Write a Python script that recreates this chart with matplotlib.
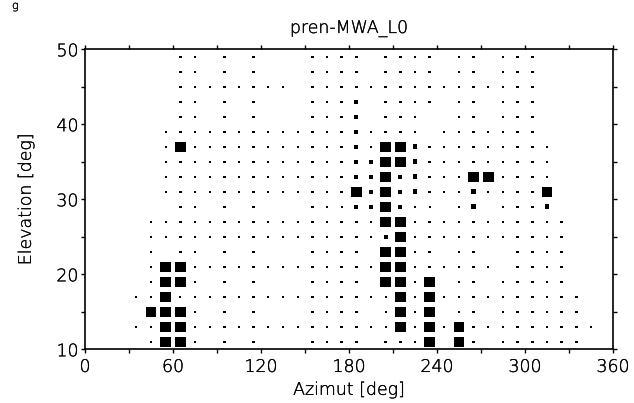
import matplotlib
matplotlib.use("Agg")
import matplotlib.pyplot as plt
import matplotlib.patheffects as pe

# ---------------- data ----------------
title = "pren-MWA_L0"
xlabel = "Azimut [deg]"
ylabel = "Elevation [deg]"

# azimuth bin centres (deg)
azimuth_bins = [5, 15, 25, 35, 45, 55, 65, 75, 85, 95, 105, 115, 125, 135, 145, 155, 165, 175,
                185, 195, 205, 215, 225, 235, 245, 255, 265, 275, 285, 295, 305, 315, 325, 335, 345, 355]
# elevation bin centres (deg), top row first
elevation_bins = [49, 47, 45, 43, 41, 39, 37, 35, 33, 31, 29, 27, 25, 23, 21, 19, 17, 15, 13, 11]

# one string per elevation row, one character per azimuth bin
# ' ' none, '.' tiny, ':' small, 'o' medium, 'O' medium-large, '#' large
cells = [
    "      :: : :   :::: :::: :: :::     ",  # 49
    "      :: : :   :::: :::: :: :::     ",  # 47
    "      ::.:.:.. ::::.::::.::.:::     ",  # 45
    "      :: : :   :::o :::: :: :::     ",  # 43
    "      :: : :   :::o :::  :: :::     ",  # 41
    "     .::.:.:...:::o.::: .::.:::     ",  # 39
    "     .#:.:.:...:::o.##O:.::.:::.    ",  # 37
    "     .::.:.:...:::oo##O:.::.:::.    ",  # 35
    "     .::.:.:...:::oo#oO:..##:::.    ",  # 33
    "     .::.:.:...:::#o#oO:..O.:::#    ",  # 31
    "      :: : :   ::.oo#o.. .O :::O    ",  # 29
    "    :.::.:.:...::::.##::.::.:::::   ",  # 27
    "    :.::.:.:...::::.o#::.::.:::::   ",  # 25
    "    : :: : :   :::: ##:: ::  ::::   ",  # 23
    "    .##:.:.:...::::.##::.::. ::::   ",  # 21
    "    :##: : :   :::: ##:# :: :::::   ",  # 19
    "   .:#.:.:.:...::::..#:#.::.::::::  ",  # 17
    "    ###: : :   :::: .#:# :: ::::::  ",  # 15
    "   .:##:.:.:...::::..#:#.#:.::::::. ",  # 13
    "    :##: : :   :::: :::# #: ::::::  ",  # 11
]

marker_area = {'.': 1.5, ':': 3.2, 'o': 9.0, 'O': 12.5, '#': 58.0}

xticks = [0, 60, 120, 180, 240, 300, 360]
yticks = [10, 20, 30, 40, 50]

# ---------------- figure ----------------
W, H = 634, 403
plt.rcParams['font.family'] = ['DejaVu Sans']
plt.rcParams['font.weight'] = 200
plt.rcParams['axes.labelweight'] = 200
fig = plt.figure(figsize=(W / 100, H / 100), dpi=100)

left, right = 85 / W, 613 / W
bottom, top = 1 - 349.3 / H, 1 - 49.3 / H
ax = fig.add_axes([left, bottom, right - left, top - bottom])

xs, ys, ss = [], [], []
for el, row in zip(elevation_bins, cells):
    for az, ch in zip(azimuth_bins, row):
        if ch != ' ':
            xs.append(az)
            ys.append(el)
            ss.append(marker_area[ch])
ax.scatter(xs, ys, s=ss, marker='s', c='black', linewidths=0)

ax.set_xlim(0, 360)
ax.set_ylim(10, 50)
ax.set_xticks(xticks)
ax.set_xticks(range(0, 361, 30), minor=True)
ax.set_yticks(yticks)
ax.set_yticks(range(10, 51, 5), minor=True)

for sp in ax.spines.values():
    sp.set_linewidth(1.2)

ax.tick_params(which='both', direction='out', top=True, right=True,
               length=3.2, width=1.0, labelsize=12.5)
ax.tick_params(axis='x', which='major', pad=3)
ax.tick_params(axis='y', which='major', pad=1.5)

ax.set_xlabel(xlabel, fontsize=12.5, fontweight=200)
ax.xaxis.set_label_coords(0.5, -0.105)
ax.set_ylabel(ylabel, fontsize=12.5, fontweight=200)
ax.yaxis.set_label_coords(-0.095, 0.5)

t = fig.text((left + right) / 2, 1 - 33 / H, title, ha='center', va='baseline',
             fontsize=12.5, fontweight=200)
# fragment of a caption at the top-left edge
g = fig.text(12 / W, 1 - 1 / H, "g", ha='left', va='top', fontsize=8, fontweight=200)

stroke = [pe.withStroke(linewidth=0.2, foreground='black')]
texts = [t, g, ax.xaxis.label, ax.yaxis.label] + ax.get_xticklabels() + ax.get_yticklabels()
for txt in texts:
    txt.set_path_effects(stroke)

fig.savefig("out.png", dpi=100)
